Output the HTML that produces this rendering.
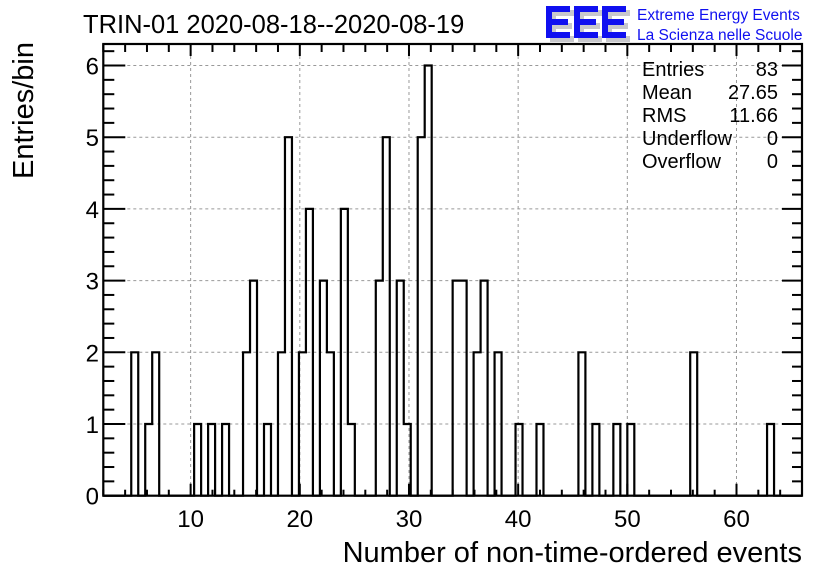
<!DOCTYPE html>
<html><head><meta charset="utf-8"><style>
html,body{margin:0;padding:0;background:#fff;}
svg{display:block;font-family:"Liberation Sans",Arial,sans-serif;}
</style></head><body>
<svg id="chart" width="836" height="572" viewBox="0 0 836 572" xmlns="http://www.w3.org/2000/svg">
<rect x="0" y="0" width="836" height="572" fill="#fff"/>
<g id="grid"></g>
<g id="hist"></g>
<g id="axes"></g>
<text x="83" y="33" font-size="25.5">TRIN-01 2020-08-18--2020-08-19</text>
<text x="0" y="0" font-size="29" text-anchor="end" transform="translate(33,42) rotate(-90)">Entries/bin</text>
<text x="802" y="562" font-size="29" text-anchor="end">Number of non-time-ordered events</text>
<g font-size="20">
<text x="642" y="76">Entries</text><text x="778" y="76" text-anchor="end">83</text>
<text x="642" y="99">Mean</text><text x="778" y="99" text-anchor="end">27.65</text>
<text x="642" y="122">RMS</text><text x="778" y="122" text-anchor="end">11.66</text>
<text x="642" y="145">Underflow</text><text x="778" y="145" text-anchor="end">0</text>
<text x="642" y="168">Overflow</text><text x="778" y="168" text-anchor="end">0</text>
</g>
<g>
<g fill="#c8c8cc" transform="translate(4,4)">
<path d="M546 6h24v6h-18v7h16v6h-16v7h18v6h-24z"/>
<path d="M574 6h24v6h-18v7h16v6h-16v7h18v6h-24z"/>
<path d="M602 6h24v6h-18v7h16v6h-16v7h18v6h-24z"/>
</g>
<g fill="#1010f0">
<path d="M546 6h24v6h-18v7h16v6h-16v7h18v6h-24z"/>
<path d="M574 6h24v6h-18v7h16v6h-16v7h18v6h-24z"/>
<path d="M602 6h24v6h-18v7h16v6h-16v7h18v6h-24z"/>
</g>
<text x="637" y="20" font-size="15.5" fill="#1010f0">Extreme Energy Events</text>
<text x="637" y="40" font-size="15.5" fill="#1010f0">La Scienza nelle Scuole</text>
</g>
</svg>
<script>
// data: values and their entry counts
const values = [5,6,7,10.6,12,13,15,16,17,18,19,20,21,22,23,24,25,27,28,29,30,31,32,34,35,36,37,38,40,42,46,47,49,50,56,63];
const counts = [2,1,2,1,1,1,2,3,1,2,5,2,4,3,2,4,1,3,5,3,1,5,6,3,3,2,3,2,1,1,2,1,1,1,2,1];
const xTicks = [10,20,30,40,50,60];
const yTicks = [0,1,2,3,4,5,6];
const xMin = 2, xMax = 66, nBins = 100, yMax = 6.3;

const L=103.3, R=802, T=44, B=495.7;
const sx = v => L + (v - xMin) / (xMax - xMin) * (R - L);
const sy = v => B - v / yMax * (B - T);
const NS = "http://www.w3.org/2000/svg";
function mk(tag, attrs, parent){const e=document.createElementNS(NS,tag);for(const k in attrs)e.setAttribute(k,attrs[k]);parent.appendChild(e);return e;}

const bw = (xMax - xMin) / nBins;
const bins = new Array(nBins).fill(0);
values.forEach((v,i)=>{const b=Math.floor((v-xMin)/bw+1e-9); if(b>=0&&b<nBins) bins[b]+=counts[i];});

const grid = document.getElementById('grid');
xTicks.forEach(t=>{
  const l = mk('line',{x1:sx(t),x2:sx(t),y1:T,y2:B,stroke:'#999','stroke-dasharray':'3,3','stroke-width':1},grid);
  
  
});
yTicks.filter(t=>t>0).forEach(t=>{
  const l = mk('line',{x1:L,x2:R,y1:sy(t),y2:sy(t),stroke:'#999','stroke-dasharray':'3,3','stroke-width':1},grid);
  
  
});

let d = `M${sx(xMin)},${sy(0)}`;
for(let i=0;i<nBins;i++){
  const x0=sx(xMin+i*bw), x1=sx(xMin+(i+1)*bw), y=sy(bins[i]);
  d += ` L${x0},${y} L${x1},${y}`;
}
d += ` L${sx(xMax)},${sy(0)}`;
const hp = mk('path',{d:d,fill:'none',stroke:'#000','stroke-width':2.2},document.getElementById('hist'));



const ax = document.getElementById('axes');
const fr = mk('rect',{x:L,y:T,width:R-L,height:B-T,fill:'none',stroke:'#000','stroke-width':2.2},ax);


for(let v=2; v<=66; v+=2){
  const major = v%10===0, len = major?12:6;
  mk('line',{x1:sx(v),x2:sx(v),y1:B,y2:B-len,stroke:'#000','stroke-width':2},ax);
  mk('line',{x1:sx(v),x2:sx(v),y1:T,y2:T+(major?12:8),stroke:'#000','stroke-width':2},ax);
}
xTicks.forEach(t=>{
  const tx = mk('text',{x:sx(t),y:527,'font-size':24,'text-anchor':'middle'},ax);
  
  
  tx.textContent=t;
});
for(let k=0;k<=31;k++){
  const v=k*0.2, major=(k%5===0), len=major?22:11;
  mk('line',{x1:L,x2:L+len,y1:sy(v),y2:sy(v),stroke:'#000','stroke-width':2},ax);
  mk('line',{x1:R,x2:R-(major?20:10),y1:sy(v),y2:sy(v),stroke:'#000','stroke-width':2},ax);
}
yTicks.forEach(t=>{
  const tx = mk('text',{x:99,y:sy(t)+9,'font-size':24,'text-anchor':'end'},ax);
  
  
  tx.textContent=t;
});
</script>
</body></html>
